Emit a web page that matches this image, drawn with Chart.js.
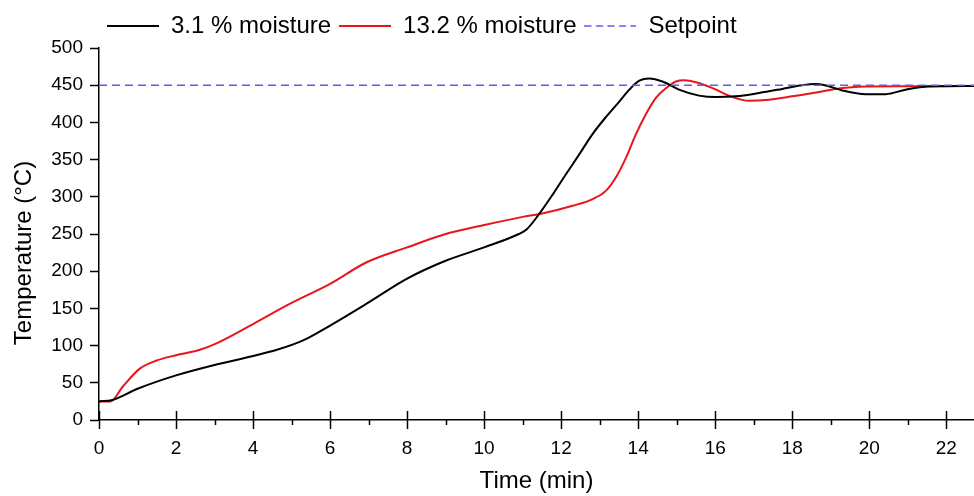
<!DOCTYPE html>
<html>
<head>
<meta charset="utf-8">
<script src="https://cdn.jsdelivr.net/npm/chart.js@4/dist/chart.umd.min.js"></script>
<style>
  html, body { margin: 0; padding: 0; background: #fff; }
  #wrap { width: 974px; height: 496px; position: relative; }
</style>
</head>
<body>
<div id="wrap"><canvas id="chart"></canvas></div>
<script>
// Values (time in min, temperature in °C).
const dryTimes = [0, 0.35, 1.0, 2.0, 3.0, 4.0, 4.6, 5.3, 6.0, 7.0, 8.0, 9.0, 10.0, 10.9, 11.1, 11.43, 11.78, 12.12, 12.47, 12.81, 13.16, 13.51, 13.77, 14.03, 14.29, 14.63, 15.06, 15.58, 16.02, 16.53, 17.14, 17.74, 18.26, 18.6, 18.85, 19.3, 19.91, 20.43, 20.94, 21.46, 22.0, 22.72];
const dryTemps = [25, 27, 42, 60, 74, 86, 94, 107, 127, 158, 190, 214, 232, 250, 256, 277, 303, 330, 357, 384, 407, 428, 444, 456, 459, 455, 444, 436, 434, 435, 439.5, 445, 450, 451.5, 450, 443, 438, 438, 444, 448, 448.5, 449];

const wetTimes = [0, 0.3, 0.62, 1.06, 1.5, 2.0, 2.6, 3.05, 4.0, 4.95, 6.0, 6.95, 8.0, 9.0, 10.0, 11.0, 11.45, 12.3, 12.82, 13.16, 13.42, 13.68, 13.94, 14.2, 14.46, 14.72, 14.98, 15.2, 15.5, 15.93, 16.45, 16.88, 17.4, 18.0, 18.7, 19.13, 19.73, 21.0, 22.72];
const wetTemps = [25, 25, 45, 69, 80, 87, 94, 103, 129, 156, 183, 212, 232, 250, 262, 273, 277, 288, 297, 308, 326, 352, 384, 411, 433, 446, 455, 456.5, 454, 446, 434, 429, 430.5, 435, 441, 445, 448, 448.5, 449];

const setpointTimes = [0, 22.72];
const setpointTemps = [450, 450];

const seriesNames = ['3.1 % moisture', '13.2 % moisture', 'Setpoint'];
const yTitle = 'Temperature (°C)';

const FONT = "'Liberation Sans', Arial, sans-serif";
const SETPOINT_BLUE = '#5c5cf0';
const toPoints = (xs, ys) => xs.map((x, i) => ({ x, y: ys[i] }));

// The built-in 'line' legend symbol ignores borderDash, so the setpoint
// gets a small pre-drawn dashed swatch instead.
function dashedSwatch(color, width) {
    const c = document.createElement('canvas');
    c.width = width;
    c.height = 4;
    const g = c.getContext('2d');
    g.strokeStyle = color;
    g.lineWidth = 1.5;
    g.setLineDash([7, 4.5]);
    g.beginPath();
    g.moveTo(0, 2);
    g.lineTo(width, 2);
    g.stroke();
    return c;
}

// Origin-style x ticks: majors cross the axis, minors point outward only.
const crossTicks = {
    id: 'crossTicks',
    afterDraw(chart) {
        const { ctx, chartArea, scales: { x } } = chart;
        ctx.save();
        ctx.strokeStyle = '#000';
        ctx.lineWidth = 1.5;
        x.ticks.forEach((tick) => {
            const px = Math.round(x.getPixelForValue(tick.value)) + 0.5;
            const major = tick.value % 2 === 0;
            ctx.beginPath();
            ctx.moveTo(px, chartArea.bottom - (major ? 9 : 0));
            ctx.lineTo(px, chartArea.bottom + (major ? 9 : 5));
            ctx.stroke();
        });
        ctx.restore();
    },
};

// Y title sits a bit below the plot's middle in the original, which the
// scale title can't do, so it is drawn here.
const yAxisTitle = {
    id: 'yAxisTitle',
    afterDraw(chart) {
        const { ctx } = chart;
        ctx.save();
        ctx.translate(24, 253);
        ctx.rotate(-Math.PI / 2);
        ctx.font = `24px ${FONT}`;
        ctx.fillStyle = '#000';
        ctx.textAlign = 'center';
        ctx.textBaseline = 'middle';
        ctx.fillText(yTitle, 0, 0);
        ctx.restore();
    },
};

new Chart(document.getElementById('chart'), {
    type: 'line',
    data: {
        datasets: [
            {
                label: seriesNames[0],
                data: toPoints(dryTimes, dryTemps),
                borderColor: '#000000',
                borderWidth: 2,
                pointStyle: 'line',
                pointBorderWidth: 2,
                order: 1,
            },
            {
                label: seriesNames[1],
                data: toPoints(wetTimes, wetTemps),
                borderColor: '#e8161b',
                borderWidth: 2,
                pointStyle: 'line',
                pointBorderWidth: 2,
                order: 2,
            },
            {
                label: seriesNames[2],
                data: toPoints(setpointTimes, setpointTemps),
                borderColor: SETPOINT_BLUE,
                borderWidth: 1.5,
                borderDash: [8, 5],
                pointStyle: dashedSwatch(SETPOINT_BLUE, 52),
                order: 0,
            },
        ],
    },
    options: {
        responsive: true,
        maintainAspectRatio: false,
        animation: false,
        layout: { padding: { top: 6, right: 0, left: 0, bottom: 0 } },
        elements: {
            point: { radius: 0, hoverRadius: 0 },
            line: { cubicInterpolationMode: 'monotone', fill: false },
        },
        plugins: {
            tooltip: { enabled: false },
            legend: {
                position: 'top',
                align: 'start',
                fullSize: false,
                labels: {
                    usePointStyle: true,
                    pointStyleWidth: 52,
                    padding: 8,
                    color: '#000',
                    font: { family: FONT, size: 24 },
                    sort: (a, b) => a.datasetIndex - b.datasetIndex,
                },
            },
        },
        scales: {
            x: {
                type: 'linear',
                min: 0,
                max: 22.72,
                border: { display: true, color: '#000', width: 1.5 },
                grid: { display: true, drawOnChartArea: false, drawTicks: false },
                ticks: {
                    stepSize: 1,
                    includeBounds: false,
                    autoSkip: false,
                    maxRotation: 0,
                    padding: 17,
                    color: '#000',
                    font: { family: FONT, size: 19 },
                    callback: (v) => (v % 2 === 0 ? v : ''),
                },
                title: {
                    display: true,
                    text: 'Time (min)',
                    color: '#000',
                    font: { family: FONT, size: 24 },
                    padding: { top: 6, bottom: 0 },
                },
                afterFit: (scale) => { scale.height = 76; },
            },
            y: {
                min: 0,
                max: 500,
                border: { display: true, color: '#000', width: 1.5 },
                grid: { drawOnChartArea: false, drawTicks: true, tickLength: 9, tickWidth: 1.5, tickColor: '#000' },
                ticks: {
                    stepSize: 50,
                    padding: 7,
                    color: '#000',
                    font: { family: FONT, size: 19 },
                },
                afterFit: (scale) => { scale.width = 99; },
            },
        },
    },
    plugins: [crossTicks, yAxisTitle],
});
</script>
</body>
</html>
